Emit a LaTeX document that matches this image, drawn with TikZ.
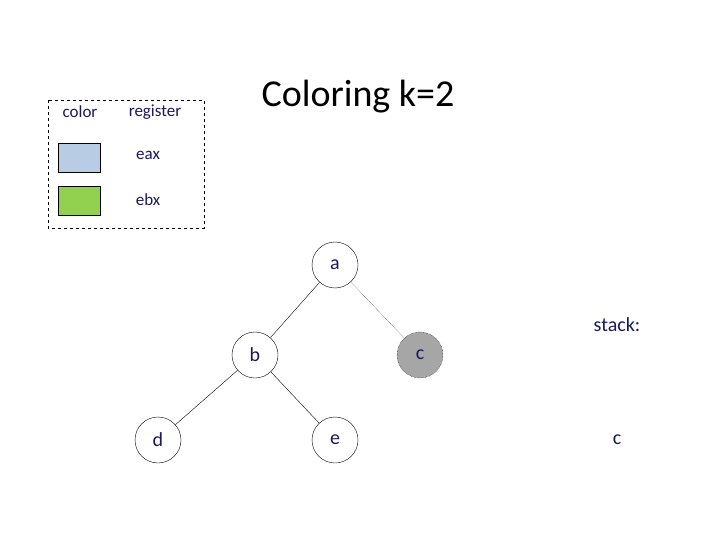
\documentclass[tikz,border=0pt]{standalone}
\usepackage{fontspec}
\setmainfont{Carlito}
\begin{document}
\begin{tikzpicture}[x=1pt,y=-1pt,
  txt/.style={text=blue!30!black!90, font=\fontsize{18}{20}\selectfont},
  nd/.style={circle, draw, minimum size=46pt, inner sep=0pt, txt, font=\fontsize{20}{22}\selectfont}]
\useasboundingbox (0,0) rectangle (720,540);
\draw[dashed] (48,100) rectangle (204,228);
\node[txt, font=\fontsize{17}{19}\selectfont] (lc) at (80,112) {color};
\node[txt, font=\fontsize{17}{19}\selectfont] (lr) at (155,112) {register};
\node[draw, fill={rgb,255:red,184;green,204;blue,228}, minimum width=42pt, minimum height=29pt, inner sep=0pt] (s1) at (79,157.5) {};
\node[draw, fill={rgb,255:red,146;green,208;blue,80}, minimum width=42pt, minimum height=29pt, inner sep=0pt] (s2) at (79,200.5) {};
\node[txt, font=\fontsize{17}{19}\selectfont] (l1) at (148,155) {eax};
\node[txt, font=\fontsize{17}{19}\selectfont] (l2) at (148,200) {ebx};
\node[text=black, font=\fontsize{38}{42}\selectfont] (title) at (358,97) {Coloring k=2};
\node[nd] (a) at (335,265) {a};
\node[nd] (b) at (255,355) {b};
\node[nd, fill=black!35, densely dotted] (c) at (420,355) {c};
\node[nd] (d) at (158,440) {d};
\node[nd] (e) at (335,440) {e};
\draw (a) -- (b);
\draw[densely dotted] (a) -- (c);
\draw (b) -- (d);
\draw (b) -- (e);
\node[txt, font=\fontsize{20}{22}\selectfont] (st) at (617,325) {stack:};
\node[txt, font=\fontsize{20}{22}\selectfont] (sc) at (617,440) {c};
\end{tikzpicture}
\end{document}
